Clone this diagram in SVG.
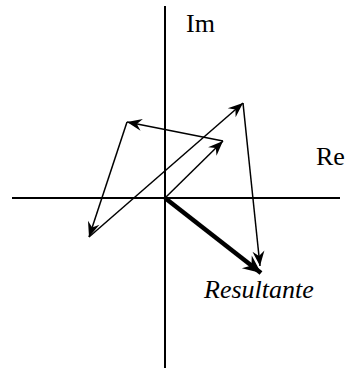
<svg xmlns="http://www.w3.org/2000/svg" width="350" height="373" viewBox="0 0 350 373">
<style>
.axis{stroke:#000;stroke-width:2;fill:none}
.vec{stroke:#000;stroke-width:1.5;fill:none;marker-end:url(#ah)}
.res{stroke:#000;stroke-width:4.5;fill:none;marker-end:url(#ahb)}
.lbl{font-size:26px;fill:#000}
</style>
<defs>
<marker id="ah" markerWidth="20" markerHeight="14" viewBox="-16 -7 18 14" refX="0" refY="0" orient="auto" markerUnits="userSpaceOnUse">
<path d="M0,0 L-15,-6 L-10,0 L-15,6 z" fill="#000"/>
</marker>
<marker id="ahb" markerWidth="24" markerHeight="18" viewBox="-20 -9 22 18" refX="0" refY="0" orient="auto" markerUnits="userSpaceOnUse">
<path d="M0,0 L-18,-8 L-12,0 L-18,8 z" fill="#000"/>
</marker>
</defs>
<g id="axes">
<line class="axis" x1="12" y1="198" x2="340" y2="198"/>
<line class="axis" x1="165" y1="6" x2="165" y2="368"/>
</g>
<g id="connectors">
<line class="vec" x1="165" y1="198" x2="223" y2="141"/>
<line class="vec" x1="223" y1="141" x2="127" y2="122"/>
<line class="vec" x1="127" y1="122" x2="89" y2="237"/>
<line class="vec" x1="89" y1="237" x2="243" y2="103"/>
<line class="vec" x1="243" y1="103" x2="260" y2="266"/>
<line class="res" x1="165" y1="198" x2="261" y2="273"/>
</g>
<g id="im"><text class="lbl" font-family="'Liberation Serif', 'Times New Roman', 'DejaVu Serif', serif" x="186" y="32">Im</text></g>
<g id="re"><text class="lbl" font-family="'Liberation Serif', 'Times New Roman', 'DejaVu Serif', serif" x="316" y="165">Re</text></g>
<g id="resultante"><text class="lbl" font-family="'Liberation Serif', 'Times New Roman', 'DejaVu Serif', serif" x="204" y="298" font-style="italic">Resultante</text></g>
</svg>
